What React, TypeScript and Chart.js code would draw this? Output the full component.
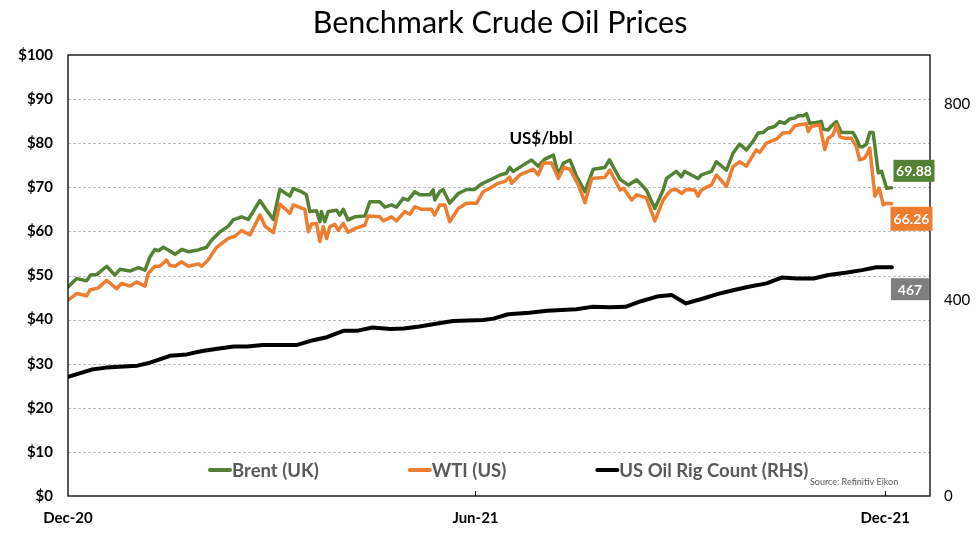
import React, { useEffect, useRef } from "react";
import { Chart, registerables } from "chart.js";

Chart.register(...registerables);

const FONT = "Lato, 'Open Sans', sans-serif";

const TITLE = "Benchmark Crude Oil Prices";
const UNIT_LABEL = "US$/bbl";
const SOURCE = "Source: Refinitiv Eikon";
const SERIES_NAMES = ["Brent (UK)", "WTI (US)", "US Oil Rig Count (RHS)"];
const SERIES_COLORS = ["#548235", "#ED7D31", "#000000"];

// x values are days since 1 Dec 2020
const xTickDays = [0, 182, 365];
const xTickLabels = ["Dec-20", "Jun-21", "Dec-21"];
const leftTicks = [0, 10, 20, 30, 40, 50, 60, 70, 80, 90, 100];
const rightTicks = [0, 400, 800];

const brentDays = [
  0, 3.9, 8.3, 10.1, 12.8, 17.3, 20.9, 23.2, 27.7, 31.4, 34.4, 36.6, 38.8, 40.3, 42.6, 44.8, 47.8, 50.8, 53.7, 58.2,
  61.9, 64.1, 67.9, 71.6, 73.8, 77.5, 80.5, 82.7, 85.7, 88.7, 91.7, 94.6, 99.1, 100.6, 104.3, 106.5, 108, 111, 112.5,
  113.2, 114.7, 116.2, 120, 121.4, 122.9, 125.1, 128.1, 132.6, 134.8, 139.3, 141.5, 144.5, 146.7, 149.7, 151.9, 154.9,
  157.1, 161.6, 163.1, 163.8, 166, 167.5, 170.5, 174.3, 178, 181.7, 183.9, 186.9, 189.9, 192.9, 195.8, 197.3, 198.8,
  202.6, 207, 210, 213, 216.8, 219, 221.3, 224.2, 227.2, 230.9, 234.6, 239.8, 241.8, 246.6, 250.3, 254, 258.3, 262.1,
  265.8, 267.3, 269.5, 271.7, 274, 275.4, 278.4, 281.4, 282.9, 285.1, 287.4, 289.6, 294.1, 297, 300, 303, 306, 308.2,
  310.4, 312.7, 315.6, 317.9, 320.1, 322.3, 324.6, 326, 328.3, 329.8, 331.3, 334.2, 336.5, 337.2, 339.5, 341, 343.2,
  345.4, 347.7, 350.6, 352.1, 353.6, 355.1, 356.6, 358.1, 359.6, 361.9, 363.4, 365.6, 367.8,
];
const brentValues = [
  47.4, 49.3, 48.8, 50.1, 50.2, 52.1, 50.1, 51.4, 51.0, 51.8, 51.2, 54.2, 55.9, 55.6, 56.4, 55.8, 54.8, 55.9, 55.4, 55.8,
  56.4, 58.0, 59.9, 61.2, 62.6, 63.3, 62.7, 64.5, 67.0, 64.8, 62.7, 69.5, 68.0, 69.7, 69.0, 68.3, 64.5, 64.7, 62.2,
  64.5, 62.2, 64.5, 64.8, 63.7, 65.0, 62.6, 63.3, 63.5, 66.7, 66.7, 65.5, 66.0, 65.5, 67.5, 67.1, 69.0,
  68.3, 68.3, 69.4, 67.1, 69.0, 69.5, 66.4, 68.6, 69.5, 69.5, 70.5, 71.3, 72.0, 72.8, 73.2, 74.5, 73.6,
  74.8, 76.2, 74.8, 76.4, 77.3, 72.8, 75.5, 76.2, 72.4, 69.0, 74.1, 74.5, 76.2, 71.8, 70.5, 71.7, 69.4, 65.2,
  69.4, 72.0, 72.8, 73.6, 72.4, 73.6, 72.8, 72.0, 72.8, 73.2, 73.6, 75.8, 73.9, 77.7, 79.8, 78.5, 80.4, 82.3,
  82.4, 83.4, 83.8, 84.9, 84.5, 85.5, 85.7, 86.2, 86.2, 86.7, 84.5, 84.7, 84.9, 83.2, 83.0, 83.9, 84.9,
  82.4, 82.4, 82.4, 81.1, 79.2, 79.2, 79.8, 82.4, 82.4, 73.3, 73.6, 69.8, 69.88,
];

const wtiDays = [
  0, 3.9, 8.3, 9.8, 13.5, 17.3, 21.7, 23.9, 27.7, 30.7, 34.4, 35.9, 38.8, 41, 44, 45.5, 47.8, 50.8, 53.7, 58.2, 59.7,
  62.6, 66.4, 71.6, 74.6, 77.5, 81.3, 85.7, 88, 91.7, 94.6, 99.1, 100.6, 105.8, 107.3, 108.8, 111, 112.5, 114, 115.5,
  117, 119.2, 120.7, 122.9, 125.1, 128.9, 132.6, 134, 139.3, 140.8, 144.5, 146.7, 150.4, 152.7, 154.9, 157.9, 162.3,
  163.8, 166, 168.3, 170.5, 174.3, 178, 182.5, 185.4, 188.4, 192.1, 195.1, 197.3, 198.1, 201.8, 207.8, 210, 212.3, 216,
  219, 221.3, 224.2, 228, 230.9, 233.9, 239.8, 242, 246.6, 248.1, 251.8, 254, 258.3, 262.1, 265.8, 268, 269.5, 271.7,
  274, 276.2, 279.9, 281.4, 282.9, 285.9, 287.4, 289.6, 294.1, 297, 300, 303, 307.4, 308.9, 311.9, 316.4, 319.3, 322.3,
  324.6, 326.8, 329.8, 330.6, 332, 335.7, 338, 339.5, 341.7, 343.2, 344.7, 347, 349.9, 352.1, 353.6, 355.8, 357.4,
  358.1, 360.4, 362.3, 364.1, 365.6, 367.8,
];
const wtiValues = [
  44.4, 45.9, 45.4, 46.7, 47.2, 48.9, 47.0, 48.2, 47.6, 48.5, 47.6, 50.5, 52.1, 52.1, 53.5, 52.3, 52.1, 53.1, 52.1, 52.6, 52.1,
  53.5, 56.4, 58.4, 58.9, 60.2, 59.2, 63.7, 61.2, 59.7, 66.2, 64.1, 66.0, 65.0, 59.9, 61.7, 61.8, 57.7, 61.1, 58.4,
  61.1, 61.6, 60.2, 61.8, 59.8, 60.8, 61.4, 63.5, 63.3, 62.4, 63.3, 62.4, 64.5, 63.9, 65.6, 65.0, 65.0,
  63.7, 66.0, 66.0, 62.2, 65.2, 66.4, 66.4, 69.0, 69.8, 70.9, 71.3, 72.3, 70.9, 72.8, 74.1, 72.8, 75.5, 75.5,
  72.0, 74.5, 74.1, 70.5, 66.5, 72.0, 72.3, 73.9, 69.4, 69.8, 67.1, 68.3, 67.6, 62.4, 67.1, 68.6, 69.4, 69.5,
  68.6, 69.5, 69.4, 68.0, 69.4, 70.2, 70.5, 72.8, 70.2, 74.7, 75.8, 74.8, 78.5, 77.9, 80.0, 80.9, 82.3, 82.4,
  83.9, 84.2, 84.4, 82.6, 83.8, 84.2, 78.6, 81.1, 81.9, 84.2, 81.5, 81.1, 81.1, 79.2, 76.2, 76.6, 78.1,
  78.9, 68.0, 69.8, 66.0, 66.4, 66.26,
];

const rigDays = [
  0, 10.6, 17, 31, 36.6, 45.6, 53, 60, 66, 74, 80, 87, 102, 109.5, 115.6, 123, 129, 136, 144, 150, 157, 165, 172, 185.5,
  190, 196.6, 206, 214, 227, 234, 242, 249, 255.6, 263, 269.7, 276, 283.7, 290, 297, 304, 312, 319, 325.6, 333, 339.6,
  348, 354.6, 361, 368,
];
const rigValues = [
  243, 258, 262, 266, 272, 286, 289, 296, 300, 305, 305, 308, 308, 318, 324, 337, 337, 344, 341, 342, 346, 352, 357, 359,
  362, 371, 374, 378, 381, 386, 385, 386, 397, 407, 410, 393, 403, 412, 420, 427, 434, 446, 444, 444, 451,
  456, 461, 467, 467,
];

const toPoints = (xs: number[], ys: number[]) => xs.map((x, i) => ({ x, y: ys[i] }));

const gridPlugin = {
  id: "dashGrid",
  beforeDatasetsDraw(chart: any) {
    const { ctx, chartArea: a, scales } = chart;
    const yl = scales.y;
    ctx.save();
    ctx.strokeStyle = "#bdbdbd";
    ctx.lineWidth = 1;
    ctx.setLineDash([3, 2]);
    for (const v of leftTicks) {
      if (v === 0 || v === 100) continue;
      const py = Math.round(yl.getPixelForValue(v)) + 0.5;
      ctx.beginPath();
      ctx.moveTo(a.left, py);
      ctx.lineTo(a.right, py);
      ctx.stroke();
    }
    ctx.restore();
  },
};

const decorPlugin = {
  id: "decor",
  afterDraw(chart: any) {
    const { ctx, chartArea: a, scales } = chart;
    const xs = scales.x;
    const yl = scales.y;
    const yr = scales.y1;
    ctx.save();

    // plot border
    ctx.strokeStyle = "#000";
    ctx.lineWidth = 1.3;
    ctx.setLineDash([]);
    ctx.strokeRect(a.left, a.top, a.right - a.left, a.bottom - a.top);

    // inner tick marks
    ctx.lineWidth = 1;
    for (const d of xTickDays.slice(1)) {
      const px = Math.round(xs.getPixelForValue(d)) + 0.5;
      ctx.beginPath();
      ctx.moveTo(px, a.bottom);
      ctx.lineTo(px, a.bottom - 5);
      ctx.stroke();
    }

    // title
    ctx.fillStyle = "#000";
    ctx.textAlign = "center";
    ctx.textBaseline = "middle";
    ctx.font = `normal 30.5px ${FONT}`;
    ctx.fillText(TITLE, 500, 23);

    // unit label
    ctx.font = `bold 17px ${FONT}`;
    ctx.fillText(UNIT_LABEL, a.left + 473, a.top + 84);

    // legend
    ctx.font = `bold 18.5px ${FONT}`;
    ctx.textAlign = "left";
    let lx = a.left + 141;
    const ly = a.bottom - 26;
    SERIES_NAMES.forEach((name, i) => {
      ctx.strokeStyle = SERIES_COLORS[i];
      ctx.lineWidth = 4;
      ctx.lineCap = "round";
      ctx.beginPath();
      ctx.moveTo(lx + 1, ly);
      ctx.lineTo(lx + 21, ly);
      ctx.stroke();
      ctx.fillStyle = "#595959";
      ctx.fillText(name, lx + 23, ly + 1);
      lx += 23 + ctx.measureText(name).width + 90;
    });

    // source
    ctx.font = `normal 9px ${FONT}`;
    ctx.fillStyle = "#595959";
    ctx.textAlign = "left";
    ctx.fillText(SOURCE, a.right - 120, a.bottom - 14);

    // value boxes
    const box = (text: string, color: string, px: number, py: number, w: number, h: number) => {
      ctx.fillStyle = color;
      ctx.fillRect(px, py - h / 2, w, h);
      ctx.fillStyle = "#fff";
      ctx.font = `bold 14px ${FONT}`;
      ctx.textAlign = "center";
      ctx.textBaseline = "middle";
      ctx.fillText(text, px + w / 2, py + 1);
    };
    const bl = brentValues.length - 1;
    const wl = wtiValues.length - 1;
    const rl = rigValues.length - 1;
    box(
      brentValues[bl].toFixed(2),
      SERIES_COLORS[0],
      xs.getPixelForValue(brentDays[bl]) + 2,
      yl.getPixelForValue(brentValues[bl]) - 17,
      41,
      22
    );
    box(
      wtiValues[wl].toFixed(2),
      SERIES_COLORS[1],
      xs.getPixelForValue(wtiDays[wl]) - 1,
      yl.getPixelForValue(wtiValues[wl]) + 15,
      42,
      24
    );
    box(
      String(rigValues[rl]),
      "#7F7F7F",
      xs.getPixelForValue(rigDays[rl]) - 1,
      yr.getPixelForValue(rigValues[rl]) + 22,
      38,
      22
    );

    ctx.restore();
  },
};

export default function App() {
  const ref = useRef<HTMLCanvasElement | null>(null);

  useEffect(() => {
    if (!ref.current) return;
    const chart = new Chart(ref.current, {
      type: "line",
      data: {
        datasets: [
          {
            label: SERIES_NAMES[0],
            data: toPoints(brentDays, brentValues),
            borderColor: SERIES_COLORS[0],
            borderWidth: 3.5,
            pointRadius: 0,
            tension: 0,
            yAxisID: "y",
            order: 3,
            borderJoinStyle: "round",
            borderCapStyle: "round",
          },
          {
            label: SERIES_NAMES[1],
            data: toPoints(wtiDays, wtiValues),
            borderColor: SERIES_COLORS[1],
            borderWidth: 3.5,
            pointRadius: 0,
            tension: 0,
            yAxisID: "y",
            order: 2,
            borderJoinStyle: "round",
            borderCapStyle: "round",
          },
          {
            label: SERIES_NAMES[2],
            data: toPoints(rigDays, rigValues),
            borderColor: SERIES_COLORS[2],
            borderWidth: 4,
            pointRadius: 0,
            tension: 0,
            yAxisID: "y1",
            order: 1,
            borderJoinStyle: "round",
            borderCapStyle: "round",
          },
        ],
      },
      options: {
        animation: false,
        responsive: false,
        maintainAspectRatio: false,
        layout: { padding: { top: 55, left: 0, right: 0, bottom: 0 } },
        plugins: {
          legend: { display: false },
          title: { display: false },
          tooltip: { enabled: false },
        },
        scales: {
          x: {
            type: "linear",
            min: 0,
            max: 385,
            afterBuildTicks: (s: any) => {
              s.ticks = xTickDays.map((v) => ({ value: v }));
            },
            afterFit: (s: any) => {
              s.height = 41;
            },
            ticks: {
              autoSkip: false,
              maxRotation: 0,
              padding: 13,
              color: "#000",
              font: { family: FONT, size: 15, weight: "bold" },
              callback: (v: any) => {
                const i = xTickDays.indexOf(Number(v));
                return i >= 0 ? xTickLabels[i] : "";
              },
            },
            grid: { display: false, drawTicks: false },
            border: { display: false },
          },
          y: {
            position: "left",
            min: 0,
            max: 100,
            afterBuildTicks: (s: any) => {
              s.ticks = leftTicks.map((v) => ({ value: v }));
            },
            afterFit: (s: any) => {
              s.width = 68;
            },
            ticks: {
              padding: 15,
              color: "#000",
              font: { family: FONT, size: 15, weight: "bold" },
              callback: (v: any) => "$" + v,
            },
            grid: { display: false, drawTicks: false },
            border: { display: false },
          },
          y1: {
            position: "right",
            min: 0,
            max: 900,
            afterBuildTicks: (s: any) => {
              s.ticks = rightTicks.map((v) => ({ value: v }));
            },
            afterFit: (s: any) => {
              s.width = 48;
            },
            ticks: {
              padding: 14,
              color: "#000",
              font: { family: FONT, size: 15, weight: "normal" },
            },
            grid: { display: false, drawOnChartArea: false, drawTicks: false },
            border: { display: false },
          },
        },
      },
      plugins: [gridPlugin, decorPlugin],
    } as any);
    return () => chart.destroy();
  }, []);

  return (
    <div style={{ position: "absolute", left: 0, top: 0, width: 978, height: 537, background: "#fff" }}>
      <canvas ref={ref} width={978} height={537} style={{ width: 978, height: 537, display: "block" }} />
    </div>
  );
}
